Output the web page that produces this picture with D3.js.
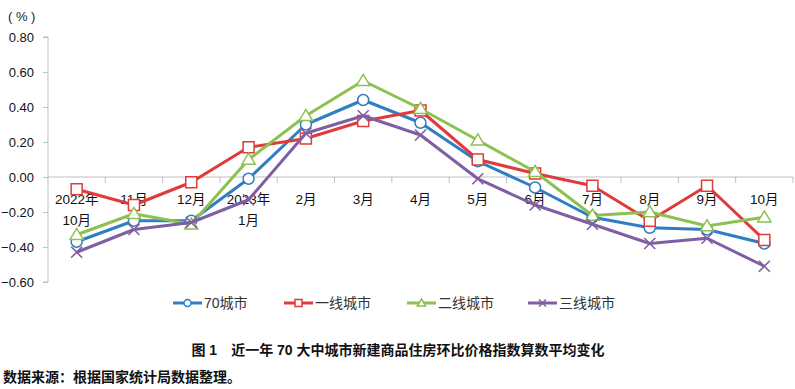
<!DOCTYPE html>
<html>
<head>
<meta charset="utf-8">
<script src="https://cdn.jsdelivr.net/npm/d3@7"></script>
<style>
  body { margin: 0; background: #fff; }
  svg { display: block; font-family: "Liberation Sans", Arial, "Noto Sans CJK SC", sans-serif; }
</style>
</head>
<body>
<div id="chart"></div>
<script>
// months, 2022-10 .. 2023-10
const months = ["2022年|10月", "11月", "12月", "2023年|1月", "2月", "3月", "4月", "5月", "6月", "7月", "8月", "9月", "10月"]
const city70 = [-0.37, -0.25, -0.25, -0.01, 0.30, 0.44, 0.31, 0.09, -0.06, -0.23, -0.29, -0.30, -0.38]
const tier1 = [-0.07, -0.16, -0.03, 0.17, 0.22, 0.32, 0.38, 0.10, 0.02, -0.05, -0.25, -0.05, -0.36]
const tier2 = [-0.33, -0.21, -0.27, 0.10, 0.35, 0.55, 0.39, 0.21, 0.03, -0.22, -0.20, -0.28, -0.23]
const tier3 = [-0.43, -0.30, -0.26, -0.13, 0.25, 0.35, 0.24, -0.01, -0.16, -0.27, -0.38, -0.35, -0.51]
const yTicks = [-0.6, -0.4, -0.2, 0, 0.2, 0.4, 0.6, 0.8]

const series = [
  {name: "70城市", values: city70, color: "#2f7ec2", marker: "circle"},
  {name: "一线城市", values: tier1, color: "#e03a3a", marker: "square"},
  {name: "二线城市", values: tier2, color: "#8cc152", marker: "triangle"},
  {name: "三线城市", values: tier3, color: "#7f5ea3", marker: "cross"}
]

const width = 795, height = 389
const svg = d3.select("#chart").append("svg")
  .attr("width", width)
  .attr("height", height)

const x = d3.scaleBand().domain(d3.range(months.length)).range([48, 793])
const y = d3.scaleLinear().domain([-0.6, 0.8]).range([282, 37])
const cx = i => x(i) + x.bandwidth() / 2

// unit label
svg.append("text")
  .attr("x", 8).attr("y", 21)
  .attr("font-size", 13).attr("fill", "#222")
  .attr("xml:space", "preserve")
  .text("( % )")

// y axis
const yAxis = svg.append("g")
  .attr("transform", "translate(48,0)")
  .call(d3.axisLeft(y).tickValues(yTicks).tickFormat(d3.format(".2f")).tickSize(5).tickPadding(9))
yAxis.select(".domain").attr("stroke", "#bfbfbf").attr("d", `M-5,${y(-0.6)}H0V${y(0.8)}H-5`)
yAxis.selectAll(".tick line").attr("stroke", "#bfbfbf")
yAxis.selectAll(".tick text").attr("font-size", 13).attr("fill", "#111")
  .attr("font-family", "Liberation Sans, Arial, sans-serif")

// x axis at zero
const xg = svg.append("g").attr("transform", `translate(0,${y(0)})`)
xg.append("line").attr("x1", 48).attr("x2", 793).attr("stroke", "#bfbfbf")
xg.selectAll("line.tk").data(d3.range(1, months.length + 1)).enter().append("line")
  .attr("class", "tk")
  .attr("x1", i => x.step() * i + 48).attr("x2", i => x.step() * i + 48)
  .attr("y1", 0).attr("y2", 6)
  .attr("stroke", "#bfbfbf")
const lbl = xg.selectAll("text").data(months).enter().append("text")
  .attr("text-anchor", "middle")
  .attr("font-size", 13.5).attr("fill", "#111")
lbl.each(function(d, i) {
  const parts = d.split("|")
  parts.forEach((p, k) => {
    d3.select(this).append("tspan")
      .attr("x", cx(i)).attr("y", 27 + k * 21)
      .text(p)
  })
})

// marker drawing
function drawMarker(g, type, color, s) {
  if (type === "circle") {
    g.append("circle").attr("r", s / 2).attr("fill", "#fff").attr("stroke", color).attr("stroke-width", 1.5)
  } else if (type === "square") {
    g.append("rect").attr("x", -s / 2).attr("y", -s / 2).attr("width", s).attr("height", s)
      .attr("fill", "#fff").attr("stroke", color).attr("stroke-width", 1.5)
  } else if (type === "triangle") {
    const h = s * 0.95
    g.append("path").attr("d", `M0,${-h * 0.6}L${s * 0.6},${h * 0.45}L${-s * 0.6},${h * 0.45}Z`)
      .attr("fill", "#fff").attr("stroke", color).attr("stroke-width", 1.5)
  } else {
    const r = s / 2
    g.append("path").attr("d", `M${-r},${-r}L${r},${r}M${-r},${r}L${r},${-r}`)
      .attr("stroke", color).attr("stroke-width", 1.6)
  }
}

const line = d3.line().x((d, i) => cx(i)).y(d => y(d))

series.forEach(s => {
  const g = svg.append("g")
  g.append("path").datum(s.values)
    .attr("d", line)
    .attr("fill", "none")
    .attr("stroke", s.color)
    .attr("stroke-width", 3)
    .attr("stroke-linejoin", "round")
  s.values.forEach((v, i) => {
    const m = g.append("g").attr("transform", `translate(${cx(i)},${y(v)})`)
    drawMarker(m, s.marker, s.color, 11)
  })
})

// legend
const legendX = [173, 284, 407, 528]
series.forEach((s, k) => {
  const g = svg.append("g").attr("transform", `translate(${legendX[k]},303)`)
  g.append("line").attr("x1", 0).attr("x2", 29).attr("stroke", s.color).attr("stroke-width", 3)
  const m = g.append("g").attr("transform", "translate(14.5,0)")
  drawMarker(m, s.marker, s.color, 7)
  g.append("text").attr("x", 31).attr("y", 5)
    .attr("font-size", 14).attr("fill", "#333")
    .text(s.name)
})

// caption
svg.append("text")
  .attr("x", 398).attr("y", 355)
  .attr("text-anchor", "middle")
  .attr("font-size", 14).attr("font-weight", "bold").attr("fill", "#111")
  .text("图 1　近一年 70 大中城市新建商品住房环比价格指数算数平均变化")
svg.append("text")
  .attr("x", 3).attr("y", 382)
  .attr("font-size", 14).attr("font-weight", "bold").attr("fill", "#111")
  .text("数据来源：根据国家统计局数据整理。")
</script>
</body>
</html>
